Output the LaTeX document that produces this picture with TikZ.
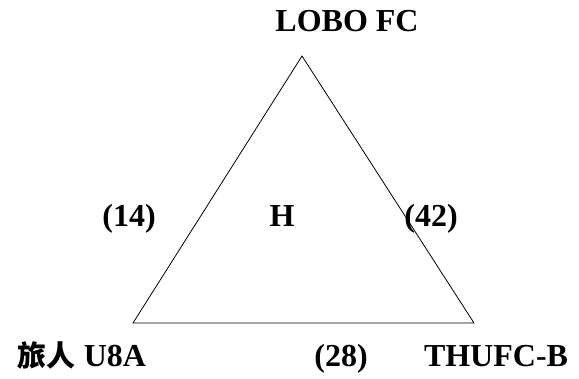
\documentclass[tikz,border=0pt]{standalone}
\usepackage{fontspec}
\setmainfont{Liberation Serif}
\newfontfamily\cjk{Noto Sans CJK SC}
\begin{document}
\begin{tikzpicture}[x=1pt,y=-1pt,
  lbl/.style={font=\fontsize{32}{38}\selectfont\bfseries, anchor=base, inner sep=0pt},
  edge/.style={draw=black, line width=0.8pt, line join=miter}]
\useasboundingbox (0,0) rectangle (579,379);
\coordinate (top) at (302,56);
\coordinate (bl) at (133,323);
\coordinate (br) at (474,323);
\draw[edge] (top) -- (br) -- (bl) -- cycle;
\node[lbl] (lobo) at (347,32) {LOBO FC};
\node[lbl] (l14) at (129,227) {(14)};
\node[lbl] (h) at (282,227) {H};
\node[lbl] (l42) at (431,227) {(42)};
\node[lbl] (u8a) at (82,367) {{\cjk\fontsize{29}{36}\selectfont\bfseries 旅人} U8A};
\node[lbl] (l28) at (341,367) {(28)};
\node[lbl] (thu) at (496,367) {THUFC-B};
\end{tikzpicture}
\end{document}
